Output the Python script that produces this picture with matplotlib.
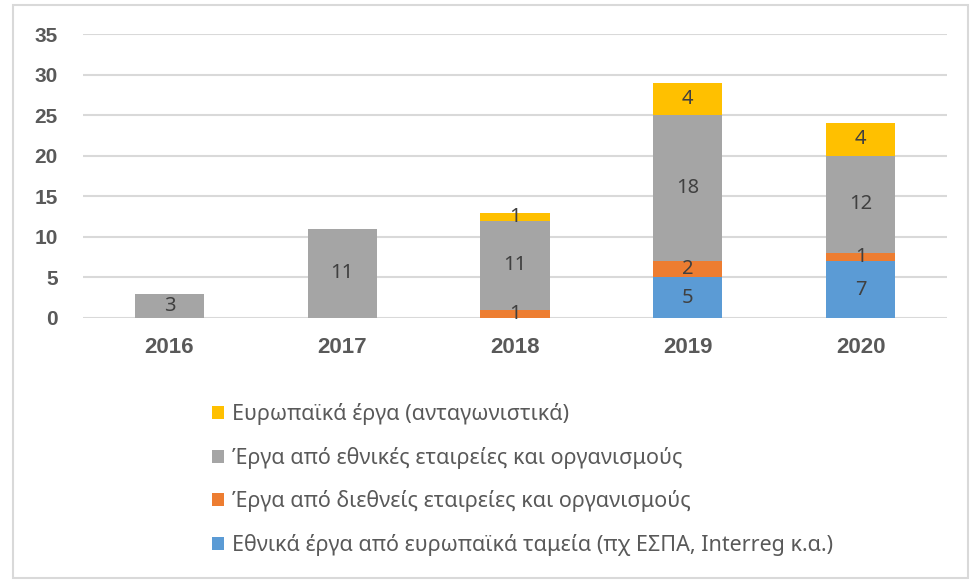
import matplotlib.pyplot as plt
import numpy as np
from matplotlib.patches import Rectangle

plt.rcParams['font.family'] = ['Noto Sans', 'DejaVu Sans']

# Données
annees = ['2016', '2017', '2018', '2019', '2020']
ethnika_eu_tameia = [0, 0, 0, 5, 7]
diethneis_etaireies = [0, 0, 1, 2, 1]
ethnikes_etaireies = [3, 11, 11, 18, 12]
europaika_erga = [0, 0, 1, 4, 4]

labels = [
    "Εθνικά έργα από ευρωπαϊκά ταμεία (πχ ΕΣΠΑ, Interreg κ.α.)",
    "Έργα από διεθνείς εταιρείες και οργανισμούς",
    "Έργα από εθνικές εταιρείες και οργανισμούς",
    "Ευρωπαϊκά έργα (ανταγωνιστικά)",
]
couleurs = ['#5B9BD5', '#ED7D31', '#A5A5A5', '#FFC000']
series = [ethnika_eu_tameia, diethneis_etaireies, ethnikes_etaireies, europaika_erga]

W, H = 979, 582
fig = plt.figure(figsize=(W / 100, H / 100), dpi=100)
ax = fig.add_axes([83 / W, 1 - 318 / H, (947 - 83) / W, (318 - 34) / H])

x = np.arange(len(annees))
bas = np.zeros(len(annees))
handles = []
for vals, col, lab in zip(series, couleurs, labels):
    vals = np.array(vals, dtype=float)
    bars = ax.bar(x, vals, 0.4, bottom=bas, color=col, label=lab, zorder=3)
    handles.append(bars)
    for xi, v, b in zip(x, vals, bas):
        if v > 0:
            ax.text(xi, b + v / 2, f"{int(v)}", ha='center', va='center',
                    fontsize=14.5, color='#404040', zorder=4)
    bas += vals

bold_font = ['Liberation Sans', 'DejaVu Sans']
ax.set_ylim(0, 35)
ax.set_xlim(-0.5, len(annees) - 0.5)
ax.set_yticks(range(0, 36, 5))
ax.set_yticklabels([str(v) for v in range(0, 36, 5)], fontweight='bold',
                   family=bold_font, fontsize=15, color='#595959')
ax.set_xticks(x)
ax.set_xticklabels(annees, fontweight='bold', family=bold_font,
                   fontsize=16, color='#595959')
ax.yaxis.grid(True, color='#D9D9D9', linewidth=1.5, zorder=0)
for s in ax.spines.values():
    s.set_visible(False)
ax.tick_params(axis='both', length=0)
ax.tick_params(axis='y', pad=18)
ax.tick_params(axis='x', pad=14)

leg = fig.legend(handles[::-1], labels[::-1], loc='upper left',
                 bbox_to_anchor=(193 / W, 1 - 384 / H), frameon=False,
                 fontsize=15.5, labelcolor='#595959', handlelength=0.55,
                 handleheight=0.55, handletextpad=0.35, labelspacing=1.0)

# Cadre autour du graphique
fig.add_artist(Rectangle((13 / W, 1 - 578 / H), (968 - 13) / W, (578 - 5) / H,
                         transform=fig.transFigure, fill=False,
                         edgecolor='#D9D9D9', linewidth=1.5))

fig.savefig('out.png', dpi=100)
plt.close()
